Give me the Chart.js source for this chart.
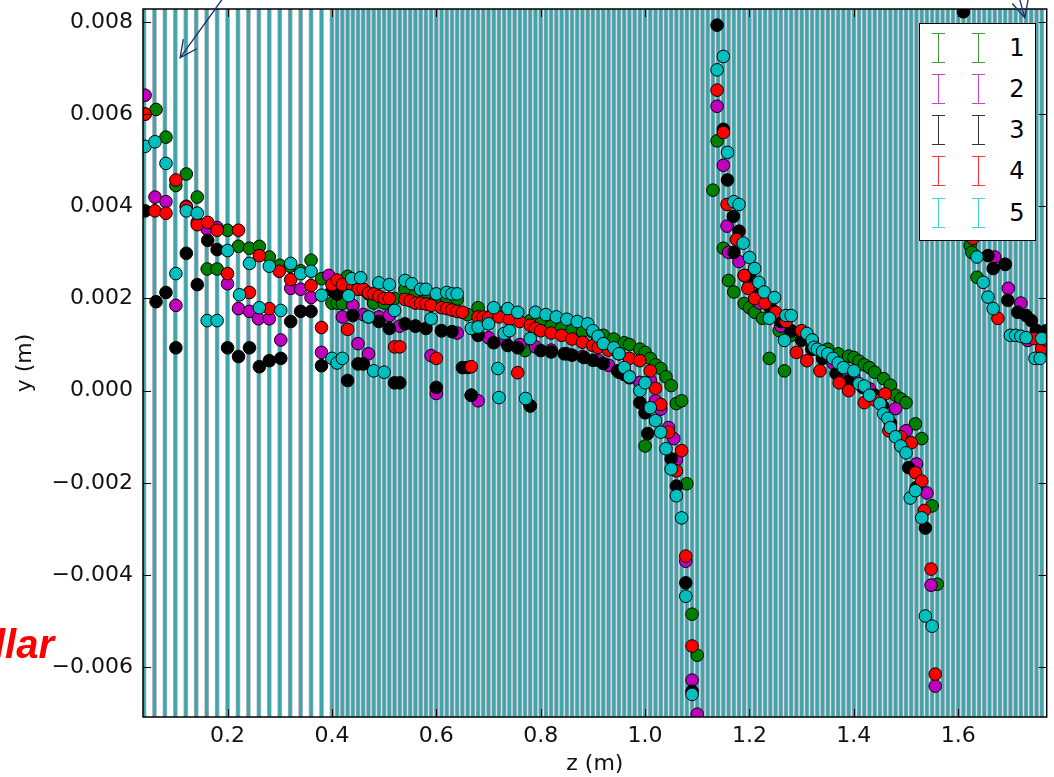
<!DOCTYPE html>
<html>
<head>
<meta charset="utf-8">
<script src="https://cdn.jsdelivr.net/npm/chart.js@4.4.1/dist/chart.umd.min.js"></script>
<style>
body { margin: 0; background: #fff; }
#wrap { position: relative; width: 1054px; height: 777px; overflow: hidden; }
#chart { position: absolute; left: 0; top: 0; }
#legend { position: absolute; left: 919px; top: 23px; width: 115px; height: 216px; background: #fff; border: 1.5px solid #000; font-family: 'DejaVu Sans', sans-serif; }
.bar { position: absolute; width: 13px; height: 30px; box-sizing: border-box; border-top: 1.5px solid currentColor; border-bottom: 1.5px solid currentColor; }
.bar::after { content: ''; position: absolute; left: 5.75px; top: 0; width: 1.5px; height: 100%; background: currentColor; }
.lab { position: absolute; left: 86px; width: 22px; text-align: center; font-size: 24px; line-height: 30px; color: #000; }
#note { position: absolute; left: -6px; top: 624px; font-family: 'Liberation Sans', Arial, sans-serif; font-weight: bold; font-style: italic; font-size: 40px; line-height: 40px; color: #ff0000; }
</style>
</head>
<body>
<div id="wrap">
  <canvas id="chart" width="1054" height="777"></canvas>
  <div id="note">llar</div>
  <div id="legend"></div>
</div>
<script>
// tick positions
var xTicks = [0.2, 0.4, 0.6, 0.8, 1.0, 1.2, 1.4, 1.6];
var yTicks = [-0.006, -0.004, -0.002, 0.0, 0.002, 0.004, 0.006, 0.008];

// measurement stations (vertical bands)
var stripeCoarse = [0.04, 0.06, 0.08, 0.10, 0.12, 0.14, 0.16, 0.18, 0.20, 0.22, 0.24, 0.26, 0.28, 0.30, 0.32, 0.34, 0.36, 0.38];
var stripeFine = [
    0.40, 0.41, 0.42, 0.43, 0.44, 0.45, 0.46, 0.47, 0.48, 0.49,
    0.50, 0.51, 0.52, 0.53, 0.54, 0.55, 0.56, 0.57, 0.58, 0.59,
    0.60, 0.61, 0.62, 0.63, 0.64, 0.65, 0.66, 0.67, 0.68, 0.69,
    0.70, 0.71, 0.72, 0.73, 0.74, 0.75, 0.76, 0.77, 0.78, 0.79,
    0.80, 0.81, 0.82, 0.83, 0.84, 0.85, 0.86, 0.87, 0.88, 0.89,
    0.90, 0.91, 0.92, 0.93, 0.94, 0.95, 0.96, 0.97, 0.98, 0.99,
    1.00, 1.01, 1.02, 1.03, 1.04, 1.05, 1.06, 1.07, 1.08, 1.09,
    1.10, 1.11, 1.12, 1.13, 1.14, 1.15, 1.16, 1.17, 1.18, 1.19,
    1.20, 1.21, 1.22, 1.23, 1.24, 1.25, 1.26, 1.27, 1.28, 1.29,
    1.30, 1.31, 1.32, 1.33, 1.34, 1.35, 1.36, 1.37, 1.38, 1.39,
    1.40, 1.41, 1.42, 1.43, 1.44, 1.45, 1.46, 1.47, 1.48, 1.49,
    1.50, 1.51, 1.52, 1.53, 1.54, 1.55, 1.56, 1.57, 1.58, 1.59,
    1.60, 1.61, 1.62, 1.63, 1.64, 1.65, 1.66, 1.67, 1.68, 1.69,
    1.70, 1.71, 1.72, 1.73, 1.74, 1.75, 1.76, 1.77
];

var seriesNames = ['1', '2', '3', '4', '5'];
var seriesColors = ['#008000', '#bf00bf', '#000000', '#ff0000', '#00bfbf'];
var legendColors = ['#3c9a3c', '#c545c5', '#333333', '#ff3535', '#45d2d2'];

// [z, y] pairs
var s1 = [
    [0.042, 0.0060], [0.063, 0.0061], [0.082, 0.0055], [0.101, 0.00445], [0.121, 0.0047], [0.142, 0.0042], [0.161, 0.00264], [0.18, 0.00264],
    [0.20, 0.00348], [0.221, 0.00313], [0.242, 0.00309], [0.261, 0.00313], [0.28, 0.0029], [0.30, 0.00272], [0.32, 0.0027], [0.34, 0.0026],
    [0.36, 0.00283], [0.38, 0.00243],
    [0.40, 0.0019], [0.41, 0.0019], [0.42, 0.00189], [0.43, 0.00248], [0.44, 0.0024], [0.45, 0.0023], [0.46, 0.0022], [0.47, 0.0021],
    [0.48, 0.0019], [0.50, 0.0019], [0.52, 0.002], [0.54, 0.0022], [0.56, 0.0021], [0.58, 0.0021], [0.60, 0.002], [0.62, 0.002],
    [0.64, 0.00198], [0.66, 0.00165], [0.68, 0.0018], [0.71, 0.00174], [0.73, 0.0017], [0.75, 0.0016], [0.77, 0.00087], [0.78, 0.00152],
    [0.80, 0.00146], [0.82, 0.0014], [0.84, 0.00136], [0.86, 0.0013], [0.88, 0.00128], [0.90, 0.00127], [0.92, 0.0012], [0.94, 0.00112],
    [0.96, 0.00104], [0.97, 0.001], [0.99, 0.0009], [1.00, 0.00083], [1.01, 0.0007], [1.02, 0.00056], [1.03, 0.00048], [1.04, 0.0003],
    [1.05, 0.00011], [1.06, -0.00028], [1.07, -0.00022],
    [1.00, -0.0012], [1.08, -0.00202], [1.09, -0.00485], [1.10, -0.00574],
    [1.13, 0.00435], [1.138, 0.00542], [1.15, 0.00309], [1.16, 0.00239], [1.17, 0.00214], [1.19, 0.00189], [1.20, 0.0018], [1.21, 0.0017],
    [1.225, 0.00157], [1.238, 0.0007], [1.257, 0.0013], [1.267, 0.00043], [1.28, 0.0012], [1.30, 0.0011], [1.32, 0.001], [1.35, 0.0009],
    [1.37, 0.0008], [1.39, 0.00075], [1.40, 0.00072], [1.41, 0.00064], [1.42, 0.00056], [1.43, 0.0005], [1.44, 0.0004], [1.457, 0.00026],
    [1.47, 0.00012], [1.48, -0.0001], [1.49, -0.00018], [1.50, -0.00026], [1.518, -0.00072], [1.53, -0.00104], [1.55, -0.0025], [1.56, -0.0042],
    [1.623, 0.00315], [1.626, 0.003], [1.636, 0.00246], [1.76, 0.00076]
];
var s2 = [
    [0.042, 0.00641], [0.061, 0.0042], [0.082, 0.0041], [0.101, 0.00185], [0.121, 0.0040], [0.142, 0.00365], [0.161, 0.0035], [0.18, 0.00354],
    [0.20, 0.00232], [0.221, 0.00178], [0.242, 0.00172], [0.259, 0.00156], [0.28, 0.00156], [0.302, 0.0011], [0.321, 0.00222], [0.34, 0.0022],
    [0.36, 0.00202], [0.38, 0.00083],
    [0.394, 0.0025], [0.41, 0.0021], [0.42, 0.0016], [0.44, 0.00185], [0.45, 0.00102], [0.46, 0.00165], [0.47, 0.0008], [0.49, 0.0016],
    [0.51, 0.00163], [0.53, 0.0014], [0.56, 0.0014], [0.59, 0.00076], [0.60, -0.00006], [0.61, 0.0013], [0.64, 0.00125], [0.667, -0.0001],
    [0.68, -0.00022], [0.70, 0.00115], [0.73, 0.0011], [0.76, 0.001], [0.78, -0.00033], [0.79, 0.00095], [0.82, 0.00088], [0.85, 0.0008],
    [0.88, 0.00074], [0.91, 0.00066], [0.93, 0.00055], [0.95, 0.0004], [0.97, 0.0003], [0.99, 0.00018], [1.01, 0.00022], [1.02, -0.00022],
    [1.03, -0.0004], [1.045, -0.0008], [1.055, -0.00104], [1.06, -0.0015], [1.078, -0.0037], [1.09, -0.00628], [1.10, -0.00702],
    [1.138, 0.00617], [1.15, 0.00489], [1.157, 0.00357], [1.16, 0.003], [1.18, 0.0028], [1.19, 0.0025], [1.20, 0.0023], [1.22, 0.0019],
    [1.24, 0.0016], [1.26, 0.0014], [1.28, 0.0013], [1.30, 0.0011], [1.32, 0.0009], [1.34, 0.00075], [1.36, 0.0006], [1.38, 0.00045],
    [1.40, 0.0003], [1.43, 0.00004], [1.45, -0.0002], [1.48, -0.00039], [1.50, -0.00087], [1.52, -0.00159], [1.54, -0.00222], [1.548, -0.00422],
    [1.556, -0.00641],
    [1.67, 0.0029], [1.69, 0.00274], [1.696, 0.00222], [1.72, 0.0019], [1.733, 0.00109], [1.75, 0.0013], [1.765, 0.0012]
];
var s3 = [
    [0.042, 0.0039], [0.063, 0.00193], [0.082, 0.00213], [0.101, 0.00093], [0.121, 0.00298], [0.142, 0.0023], [0.162, 0.00326], [0.18, 0.00306],
    [0.20, 0.00093], [0.221, 0.00074], [0.242, 0.00093], [0.261, 0.00052], [0.28, 0.00065], [0.302, 0.0007], [0.321, 0.0015], [0.34, 0.00172],
    [0.36, 0.00172], [0.38, 0.00054],
    [0.40, 0.00217], [0.41, 0.0021], [0.43, 0.00022], [0.44, 0.00163], [0.45, 0.00058], [0.46, 0.00058], [0.47, 0.0016], [0.49, 0.0015],
    [0.51, 0.00135], [0.52, 0.00017], [0.53, 0.00017], [0.54, 0.00145], [0.56, 0.0014], [0.58, 0.00135], [0.60, 0.00007], [0.61, 0.0013],
    [0.63, 0.00128], [0.65, 0.0005], [0.66, 0.0005], [0.667, -0.0001], [0.68, 0.0012], [0.71, 0.00104], [0.737, 0.00098], [0.756, 0.00093],
    [0.78, -0.00033], [0.80, 0.00087], [0.82, 0.00084], [0.845, 0.0008], [0.86, 0.00077], [0.883, 0.00072], [0.90, 0.00066], [0.92, 0.00059],
    [0.947, 0.00043], [0.96, 0.00035], [0.97, 0.00028], [0.99, -0.00026], [1.00, -0.00048], [1.005, -0.00093], [1.05, -0.00148], [1.06, -0.00207],
    [1.078, -0.00417], [1.09, -0.00652],
    [1.138, 0.00793], [1.15, 0.00567], [1.158, 0.00457], [1.169, 0.00378], [1.18, 0.00346], [1.17, 0.003], [1.20, 0.0025], [1.22, 0.0021],
    [1.24, 0.0018], [1.26, 0.0015], [1.28, 0.0013], [1.30, 0.0011], [1.32, 0.0009], [1.34, 0.0007], [1.366, 0.00037], [1.39, 0.0002],
    [1.417, 0.00007], [1.44, -0.0001], [1.455, -0.00033], [1.47, -0.0007], [1.49, -0.0012], [1.505, -0.00167], [1.52, -0.0021], [1.537, -0.00298],
    [1.61, 0.00822], [1.657, 0.00293], [1.667, 0.00265], [1.69, 0.00274], [1.695, 0.00196], [1.714, 0.0017], [1.73, 0.00163], [1.74, 0.00152],
    [1.75, 0.0013], [1.768, 0.0013]
];
var s4 = [
    [0.042, 0.006], [0.061, 0.0039], [0.082, 0.00385], [0.101, 0.00457], [0.121, 0.00398], [0.142, 0.0036], [0.162, 0.00365], [0.18, 0.00348],
    [0.20, 0.00254], [0.221, 0.00348], [0.242, 0.00213], [0.261, 0.00293], [0.28, 0.00178], [0.299, 0.00259], [0.321, 0.00241], [0.36, 0.00228],
    [0.38, 0.00137],
    [0.40, 0.0023], [0.41, 0.0024], [0.42, 0.0023], [0.43, 0.00133], [0.44, 0.00225], [0.45, 0.0022], [0.46, 0.0022], [0.47, 0.00212],
    [0.48, 0.0021], [0.49, 0.00205], [0.50, 0.002], [0.51, 0.002], [0.52, 0.00095], [0.53, 0.00095], [0.54, 0.00198], [0.55, 0.00195],
    [0.56, 0.0019], [0.57, 0.0019], [0.58, 0.00188], [0.59, 0.00185], [0.60, 0.0007], [0.61, 0.0018], [0.62, 0.00178], [0.63, 0.00175],
    [0.64, 0.00172], [0.65, 0.0017], [0.667, 0.00052], [0.68, 0.0016], [0.69, 0.0016], [0.70, 0.00158], [0.72, 0.0016], [0.74, 0.00155],
    [0.756, 0.00039], [0.76, 0.0015], [0.78, 0.00142], [0.79, 0.00135], [0.80, 0.0013], [0.82, 0.00125], [0.84, 0.0012], [0.86, 0.00112],
    [0.88, 0.00105], [0.90, 0.00098], [0.91, 0.00094], [0.93, 0.00088], [0.95, 0.0008], [0.97, 0.0007], [0.99, 0.00065], [1.01, 0.00043],
    [1.02, 0.00005], [1.03, -0.0003], [1.045, -0.0009], [1.06, -0.00174], [1.07, -0.0013], [1.078, -0.00359], [1.09, -0.00554],
    [1.138, 0.00652], [1.15, 0.0056], [1.157, 0.00404], [1.175, 0.00328], [1.19, 0.0025], [1.197, 0.00222], [1.21, 0.002], [1.23, 0.0019],
    [1.25, 0.0017], [1.27, 0.0015], [1.29, 0.00083], [1.30, 0.0013], [1.31, 0.00065], [1.32, 0.0011], [1.335, 0.00043], [1.35, 0.0008],
    [1.372, 0.00017], [1.39, 0.0], [1.42, -0.00026], [1.44, -0.0002], [1.46, -0.00007], [1.467, -0.00087], [1.49, -0.001], [1.51, -0.00113],
    [1.518, -0.00178], [1.53, -0.00196], [1.535, -0.0026], [1.548, -0.00387], [1.556, -0.00615],
    [1.628, 0.0033], [1.676, 0.00157], [1.745, 0.00113], [1.76, 0.00091], [1.768, 0.0011]
];
var s5 = [
    [0.042, 0.0053], [0.061, 0.0054], [0.082, 0.00493], [0.101, 0.00254], [0.121, 0.0039], [0.142, 0.00385], [0.161, 0.00152], [0.18, 0.00152],
    [0.20, 0.00304], [0.223, 0.00208], [0.242, 0.00276], [0.261, 0.0018], [0.28, 0.0027], [0.302, 0.00174], [0.321, 0.00276], [0.34, 0.00254],
    [0.36, 0.00259], [0.38, 0.00207],
    [0.40, 0.0007], [0.41, 0.0006], [0.42, 0.0007], [0.432, 0.00206], [0.438, 0.00243], [0.455, 0.00245], [0.47, 0.0016], [0.48, 0.00043],
    [0.49, 0.00234], [0.50, 0.0004], [0.51, 0.0023], [0.52, 0.00174], [0.54, 0.00239], [0.553, 0.00232], [0.57, 0.0022], [0.58, 0.0022],
    [0.59, 0.00156], [0.60, 0.0021], [0.62, 0.00213], [0.63, 0.0021], [0.64, 0.0021], [0.667, 0.00135], [0.68, 0.00138], [0.70, 0.00145],
    [0.71, 0.0018], [0.718, 0.00048], [0.72, -0.00015], [0.73, 0.00124], [0.737, 0.00178], [0.74, 0.0013], [0.756, 0.0017], [0.771, -0.00017],
    [0.78, 0.00113], [0.79, 0.0017], [0.81, 0.00165], [0.83, 0.0016], [0.85, 0.00155], [0.87, 0.0015], [0.89, 0.00145], [0.90, 0.0013],
    [0.91, 0.00118], [0.92, 0.00102], [0.94, 0.00093], [0.95, 0.0008], [0.96, 0.0005], [0.97, 0.0003], [0.99, 0.0], [1.00, 0.00017],
    [1.01, -0.00037], [1.02, -0.00065], [1.03, -0.0009], [1.04, -0.00126], [1.05, -0.0017], [1.06, -0.00228], [1.07, -0.00276], [1.078, -0.00446],
    [1.09, -0.00659],
    [1.138, 0.00696], [1.15, 0.00725], [1.158, 0.00517], [1.17, 0.0041], [1.18, 0.00404], [1.188, 0.0032], [1.20, 0.00289], [1.21, 0.00265],
    [1.218, 0.00235], [1.228, 0.00214], [1.238, 0.00157], [1.248, 0.00202], [1.267, 0.00109], [1.27, 0.00163], [1.28, 0.00163], [1.31, 0.00124],
    [1.32, 0.0011], [1.324, 0.00094], [1.33, 0.0009], [1.34, 0.00085], [1.35, 0.0008], [1.36, 0.0007], [1.37, 0.0006], [1.38, 0.0005],
    [1.40, 0.00043], [1.41, 0.00015], [1.42, 0.0001], [1.43, -0.0001], [1.45, -0.00028], [1.457, -0.0005], [1.465, -0.0006], [1.47, -0.0008],
    [1.48, -0.001], [1.49, -0.0012], [1.50, -0.00135], [1.508, -0.00233], [1.518, -0.00217], [1.53, -0.00276], [1.537, -0.00489], [1.55, -0.00511],
    [1.636, 0.0029], [1.648, 0.00235], [1.657, 0.00203], [1.667, 0.00178], [1.70, 0.0012], [1.71, 0.0012], [1.72, 0.00118], [1.73, 0.00115],
    [1.747, 0.0007], [1.757, 0.0007], [1.76, 0.00113]
];

var allSeries = [s1, s2, s3, s4, s5];

function toPoints(list) {
    var out = [];
    for (var i = 0; i < list.length; i++) {
        out.push({ x: list[i][0], y: list[i][1] });
    }
    return out;
}

function stripePoints() {
    var zs = stripeCoarse.concat(stripeFine);
    var out = [];
    for (var i = 0; i < zs.length; i++) {
        out.push({ x: zs[i], y: -0.01 });
        out.push({ x: zs[i], y: 0.01 });
        out.push({ x: zs[i], y: null });
    }
    return out;
}

function fmtY(v) {
    var s = Math.abs(v).toFixed(3);
    return v < -1e-9 ? '\u2212' + s : s;
}

// legend (html)
var legendBox = document.getElementById('legend');
for (var i = 0; i < seriesNames.length; i++) {
    var rowTop = 8.5 + i * 41.3;
    var b1 = document.createElement('div');
    b1.className = 'bar';
    b1.style.left = '12px';
    b1.style.top = rowTop + 'px';
    b1.style.color = legendColors[i];
    var b2 = b1.cloneNode();
    b2.style.left = '52px';
    b2.style.top = rowTop + 'px';
    b2.style.color = legendColors[i];
    var lab = document.createElement('div');
    lab.className = 'lab';
    lab.style.top = rowTop + 'px';
    lab.textContent = seriesNames[i];
    legendBox.appendChild(b1);
    legendBox.appendChild(b2);
    legendBox.appendChild(lab);
}

function drawArrow(ctx, x0, y0, x1, y1) {
    var ang = Math.atan2(y1 - y0, x1 - x0);
    var len = 19;
    ctx.beginPath();
    ctx.moveTo(x0, y0);
    ctx.lineTo(x1, y1);
    ctx.moveTo(x1 - len * Math.cos(ang - 0.45), y1 - len * Math.sin(ang - 0.45));
    ctx.lineTo(x1, y1);
    ctx.lineTo(x1 - len * Math.cos(ang + 0.45), y1 - len * Math.sin(ang + 0.45));
    ctx.stroke();
}

var framePlugin = {
    id: 'frame',
    afterDraw: function (chart) {
        var ctx = chart.ctx;
        var a = chart.chartArea;
        var xs = chart.scales.x;
        var ys = chart.scales.y;
        ctx.save();
        ctx.strokeStyle = '#000';
        ctx.lineWidth = 1;
        ctx.beginPath();
        for (var i = 0; i < xTicks.length; i++) {
            var px = Math.round(xs.getPixelForValue(xTicks[i])) + 0.5;
            ctx.moveTo(px, a.bottom);
            ctx.lineTo(px, a.bottom - 8);
            ctx.moveTo(px, a.top);
            ctx.lineTo(px, a.top + 8);
        }
        for (var j = 0; j < yTicks.length; j++) {
            var py = Math.round(ys.getPixelForValue(yTicks[j])) + 0.5;
            ctx.moveTo(a.left, py);
            ctx.lineTo(a.left + 8, py);
            ctx.moveTo(a.right, py);
            ctx.lineTo(a.right - 8, py);
        }
        ctx.stroke();
        ctx.lineWidth = 1.5;
        ctx.strokeRect(a.left, a.top, a.right - a.left, a.bottom - a.top);

        // annotation arrows
        ctx.strokeStyle = '#1c2c6c';
        ctx.lineWidth = 1.3;
        drawArrow(ctx, xs.getPixelForValue(0.189), ys.getPixelForValue(0.00848),
            xs.getPixelForValue(0.109), ys.getPixelForValue(0.00722));
        drawArrow(ctx, xs.getPixelForValue(1.715), ys.getPixelForValue(0.0086),
            xs.getPixelForValue(1.7276), ys.getPixelForValue(0.00809));
        ctx.restore();
    }
};

var datasets = [
    {
        type: 'line', data: stripePoints(), borderColor: '#adadb7', borderWidth: 4.6,
        pointRadius: 0, spanGaps: false, order: 20, clip: 0
    },
    {
        type: 'line', data: stripePoints(), borderColor: '#3ba6ab', borderWidth: 3.1,
        pointRadius: 0, spanGaps: false, order: 19, clip: 0
    }
];
for (var k = 0; k < allSeries.length; k++) {
    datasets.push({
        type: 'scatter',
        label: seriesNames[k],
        data: toPoints(allSeries[k]),
        backgroundColor: seriesColors[k],
        borderColor: '#000',
        borderWidth: 1,
        pointRadius: 6.3,
        pointHoverRadius: 6.3,
        order: 5 - k,
        clip: 0
    });
}

var tickFont = { family: 'DejaVu Sans', size: 22 };

new Chart(document.getElementById('chart').getContext('2d'), {
    type: 'scatter',
    data: { datasets: datasets },
    options: {
        responsive: false,
        animation: false,
        devicePixelRatio: 1,
        layout: { padding: { left: 0, right: 2, top: 9, bottom: 0 } },
        plugins: { legend: { display: false }, tooltip: { enabled: false } },
        scales: {
            x: {
                type: 'linear',
                min: 0.038,
                max: 1.7695,
                grid: { display: false, drawTicks: false },
                border: { display: false },
                afterBuildTicks: function (scale) {
                    scale.ticks = xTicks.map(function (v) { return { value: v }; });
                },
                afterFit: function (scale) {
                    scale.height = 60;
                    scale.paddingLeft = 0;
                    scale.paddingRight = 0;
                },
                ticks: {
                    autoSkip: false, maxRotation: 0, padding: 6, color: '#111', font: tickFont,
                    callback: function (v) { return v.toFixed(1); }
                },
                title: { display: true, text: 'z (m)', color: '#111', font: tickFont, padding: { top: 0, bottom: 0 } }
            },
            y: {
                type: 'linear',
                min: -0.00708,
                max: 0.00828,
                grid: { display: false, drawTicks: false },
                border: { display: false },
                afterBuildTicks: function (scale) {
                    scale.ticks = yTicks.map(function (v) { return { value: v }; });
                },
                afterFit: function (scale) {
                    scale.width = 143;
                    scale.paddingTop = 0;
                    scale.paddingBottom = 0;
                },
                ticks: {
                    padding: 10, color: '#111', font: tickFont,
                    callback: function (v) { return fmtY(v); }
                },
                title: { display: true, text: 'y (m)', color: '#111', font: tickFont, padding: { top: 12, bottom: 0 } }
            }
        }
    },
    plugins: [framePlugin]
});
</script>
</body>
</html>
